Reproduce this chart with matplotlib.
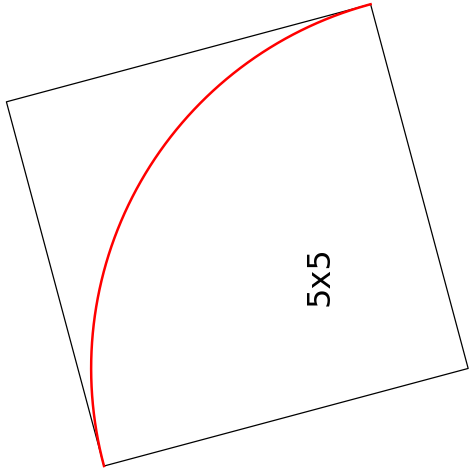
import numpy as np
import matplotlib
matplotlib.use("Agg")
import matplotlib.pyplot as plt

# Square geometry and label
SIDE = 5.0
ANGLE_DEG = 15.0
LABEL = "5x5"
LABEL_POS = (2.87, 2.52)

a = np.radians(ANGLE_DEG)
u = SIDE * np.array([np.cos(a), np.sin(a)])
v = SIDE * np.array([-np.sin(a), np.cos(a)])
p0 = np.array([0.0, 0.0])
corners = np.array([p0, p0 + u, p0 + u + v, p0 + v, p0])

fig = plt.figure(figsize=(4.7, 4.75), dpi=100)
ax = fig.add_axes([0, 0, 1, 1])

ax.plot(corners[:, 0], corners[:, 1], color="black", linewidth=0.9)

# quarter circle centred at the right corner, radius = side
centre = p0 + u
theta = np.radians(np.linspace(180 + ANGLE_DEG, 90 + ANGLE_DEG, 200))
ax.plot(centre[0] + SIDE * np.cos(theta), centre[1] + SIDE * np.sin(theta),
        color="red", linewidth=1.8)

ax.text(LABEL_POS[0], LABEL_POS[1], LABEL, rotation=90, ha="center", va="center",
        fontsize=23, color="black")

ax.set_xlim(-1.379, 4.854)
ax.set_ylim(-0.119, 6.18)
ax.set_aspect("equal", adjustable="datalim")
ax.axis("off")

fig.savefig("out.png", dpi=100)
